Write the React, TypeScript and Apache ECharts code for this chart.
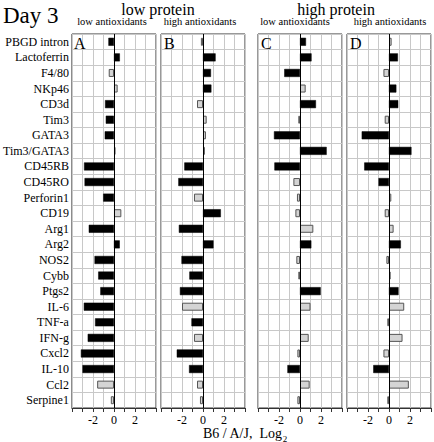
import React, { useEffect, useRef } from "react";
import * as echarts from "echarts";

const categories = [
  "PBGD intron", "Lactoferrin", "F4/80", "NKp46", "CD3d", "Tim3", "GATA3", "Tim3/GATA3",
  "CD45RB", "CD45RO", "Perforin1", "CD19", "Arg1", "Arg2", "NOS2", "Cybb", "Ptgs2",
  "IL-6", "TNF-a", "IFN-g", "Cxcl2", "IL-10", "Ccl2", "Serpine1",
];

const valsA = [-0.53, 0.56, -0.5, 0.35, -0.85, -0.78, -0.88, 0.15, -2.85, -2.8, -1.03, 0.7, -2.4, 0.55, -1.85, -1.5, -1.3, -2.87, -1.8, -2.5, -3.15, -3.0, -1.6, -0.3];
const sigA = [1, 1, 0, 0, 1, 1, 1, 0, 1, 1, 1, 0, 1, 1, 1, 1, 1, 1, 1, 1, 1, 1, 0, 0];

const valsB = [-0.2, 1.2, 0.76, 0.8, -0.57, 0.35, 0.28, 0.18, -1.78, -2.35, -0.86, 1.7, -2.3, 1.0, -2.05, -1.3, -2.2, -2.0, -1.1, -0.86, -2.5, -1.33, -0.57, -0.29];
const sigB = [0, 1, 1, 1, 0, 0, 0, 0, 1, 1, 0, 1, 1, 1, 1, 1, 1, 0, 1, 0, 1, 1, 0, 0];

const valsC = [0.57, 1.1, -1.5, 0.54, 1.52, -0.16, -2.48, 2.54, -2.44, -0.63, -0.29, -0.44, 1.27, 1.08, -0.35, -0.16, 1.97, 1.0, 0.1, 0.83, -0.25, -1.2, 0.92, -0.25];
const sigC = [1, 1, 1, 0, 1, 0, 1, 1, 1, 0, 0, 0, 0, 1, 0, 0, 1, 0, 0, 0, 0, 1, 0, 0];

const valsD = [0.25, 0.85, -0.53, 0.7, 0.88, -0.41, -2.6, 2.14, -2.36, -1.0, 0.22, -0.41, 0.44, 1.13, -0.25, 0.16, 0.91, 1.45, -0.16, 1.29, -0.53, -1.5, 1.89, -0.16];
const sigD = [0, 1, 0, 1, 1, 0, 1, 1, 1, 1, 0, 0, 0, 1, 0, 0, 1, 0, 0, 0, 0, 1, 0, 0];

const panelLetters = ["A", "B", "C", "D"];
const xTickLabels = [-2, 0, 2];

const FONT = "Liberation Serif, Times New Roman, serif";

export default function App() {
  const ref = useRef<HTMLDivElement>(null);
  useEffect(() => {
    if (!ref.current) return;
    const chart = echarts.init(ref.current, undefined, { renderer: "svg" });
    const panels = [
      { left: 71, width: 85, vals: valsA, sig: sigA },
      { left: 161, width: 84, vals: valsB, sig: sigB },
      { left: 258, width: 84, vals: valsC, sig: sigC },
      { left: 347, width: 85, vals: valsD, sig: sigD },
    ];
    const top = 34;
    const height = 374;
    const grids = panels.map((p) => ({
      left: p.left, width: p.width, top, height,
      show: true, backgroundColor: "#fff", borderColor: "#333", borderWidth: 1,
    }));
    const xAxes = panels.map((_, i) => ({
      type: "value", gridIndex: i, min: -4, max: 4, interval: 1,
      axisLine: { show: true, onZero: false, lineStyle: { color: "#333", width: 1 } },
      axisTick: { show: true, length: 4, lineStyle: { color: "#333" } },
      splitLine: { show: true, lineStyle: { color: "#c8c8c8", width: 1 } },
      axisLabel: {
        margin: 6, fontFamily: FONT, fontSize: 12, color: "#000",
        formatter: (v: number) => (xTickLabels.includes(v) ? String(v) : ""),
      },
    }));
    const yAxes = panels.map((_, i) => ({
      type: "category", gridIndex: i, data: categories, inverse: true,
      axisLine: { show: false },
      axisTick: { show: false },
      splitLine: { show: true, interval: 0, lineStyle: { color: "#c8c8c8", width: 1 } },
      axisLabel: { show: i === 0, interval: 0, margin: 3, fontFamily: FONT, fontSize: 12, color: "#000" },
    }));
    const series: any[] = [];
    panels.forEach((p, i) => {
      series.push({
        type: "bar", xAxisIndex: i, yAxisIndex: i, barWidth: 8, barGap: "-100%",
        data: p.vals.map((v, k) => (p.sig[k] ? v : "-")),
        itemStyle: { color: "#000", borderColor: "#000", borderWidth: 0.5 },
        z: 3,
      });
      series.push({
        type: "bar", xAxisIndex: i, yAxisIndex: i, barWidth: 8, barGap: "-100%",
        data: p.vals.map((v, k) => (p.sig[k] ? "-" : v)),
        itemStyle: { color: "#d4d4d4", borderColor: "#555", borderWidth: 1 },
        z: 3,
        markLine: {
          silent: true, symbol: "none", label: { show: false },
          lineStyle: { color: "#000", type: "solid", width: 1 },
          data: [{ xAxis: 0 }],
          z: 4,
        },
      });
    });
    const txt = (text: string, x: number, y: number, size: number, align = "center") => ({
      type: "text", x, y,
      style: { text, fontFamily: FONT, fontSize: size, fill: "#000", align, verticalAlign: "middle" },
      z: 10,
    });
    const graphic: any[] = [
      txt("Day 3", 3, 15, 23, "left"),
      txt("low protein", 158, 9, 16),
      txt("high protein", 336, 9, 16),
      txt("low antioxidants", 112, 21, 10.5),
      txt("high antioxidants", 200, 21, 10.5),
      txt("low antioxidants", 295, 21, 10.5),
      txt("high antioxidants", 390, 21, 10.5),
      {
        type: "text", x: 203, y: 432,
        style: {
          text: "{a|B6 / A/J,  Log}{s|2}",
          verticalAlign: "middle",
          rich: {
            a: { fontFamily: FONT, fontSize: 14, fill: "#000", lineHeight: 16, verticalAlign: "bottom" },
            s: { fontFamily: FONT, fontSize: 9, fill: "#000", lineHeight: 16, verticalAlign: "bottom", padding: [0, 0, -3, 0] },
          },
        },
      },
    ];
    panels.forEach((p, i) => {
      graphic.push(txt(panelLetters[i], p.left + 3, 43, 16, "left"));
    });
    chart.setOption({
      animation: false,
      grid: grids,
      xAxis: xAxes,
      yAxis: yAxes,
      series,
      graphic,
    });
    return () => chart.dispose();
  }, []);
  return (
    <div
      ref={ref}
      style={{ position: "fixed", left: 0, top: 0, width: 434, height: 442, background: "#fff" }}
    />
  );
}
